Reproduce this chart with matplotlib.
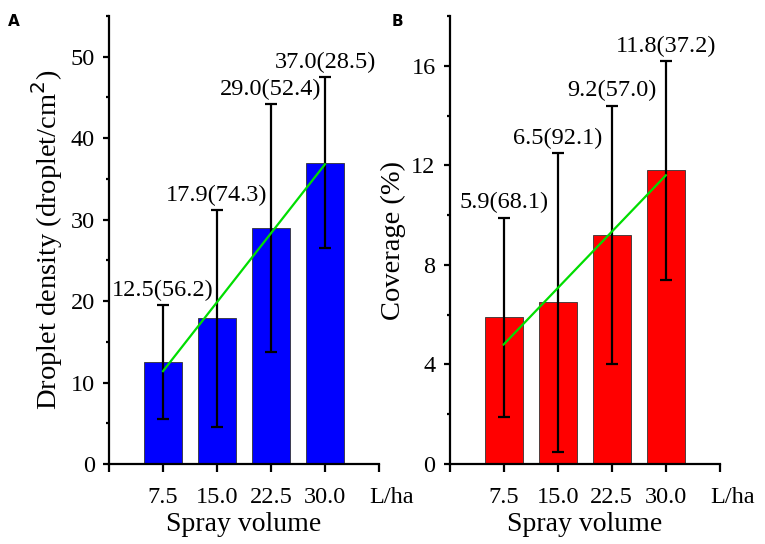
import matplotlib.pyplot as plt
from matplotlib.ticker import MultipleLocator

plt.rcParams['font.family'] = ['Liberation Serif', 'DejaVu Serif']

volumes = ['7.5', '15.0', '22.5', '30.0']
unit = 'L/ha'

density = [12.5, 17.9, 29.0, 37.0]
density_err = [7.0, 13.3, 15.2, 10.5]
density_cv = [56.2, 74.3, 52.4, 28.5]
density_trend = [11.4, 36.8]   # green line ends

coverage = [5.9, 6.5, 9.2, 11.8]
coverage_err = [4.0, 6.0, 5.2, 4.4]
coverage_cv = [68.1, 92.1, 57.0, 37.2]
coverage_trend = [4.8, 11.6]

fig = plt.figure(figsize=(7.65, 5.44), dpi=100)
axA = fig.add_axes([109 / 765, 80 / 544, 270 / 765, 448 / 544])
axB = fig.add_axes([449.5 / 765, 80 / 544, 270.5 / 765, 448 / 544])


def panel(ax, vals, errs, cvs, trend, color, ylabel, ymax, major, minor):
    x = list(range(1, len(vals) + 1))
    ax.bar(x, vals, width=0.7, color=color, edgecolor='#333333', linewidth=0.6, zorder=2)
    ax.errorbar(x, vals, yerr=errs, fmt='none', ecolor='black', elinewidth=1.6,
                capsize=4.5, capthick=1.6, zorder=3)
    ax.plot([x[0], x[-1]], trend, color='#00dd00', lw=1.6, zorder=4)
    for xi, v, e, c in zip(x, vals, errs, cvs):
        ax.annotate(f'{v:.1f}({c:.1f})', (xi, v + e), xytext=(0, 3),
                    textcoords='offset points', ha='center', va='bottom', fontsize=17.5)
    ax.set_xlim(0, 5)
    ax.set_ylim(0, ymax)
    ax.set_xticks(range(0, 6))
    ax.set_xticklabels([''] + volumes + [''])
    # unit label sits a little right of the last tick
    ax.annotate(unit, (5, 0), xytext=(9, -16.5), textcoords='offset points',
                ha='center', va='top', fontsize=17.5, annotation_clip=False)
    ax.yaxis.set_major_locator(MultipleLocator(major))
    ax.yaxis.set_minor_locator(MultipleLocator(minor))
    for s in ['top', 'right']:
        ax.spines[s].set_visible(False)
    for s in ['left', 'bottom']:
        ax.spines[s].set_linewidth(1.6)
    ax.tick_params(which='both', width=1.6, labelsize=17.5)
    ax.tick_params(axis='x', which='major', length=5.5, pad=11)
    ax.tick_params(axis='y', which='major', length=4, pad=6)
    ax.tick_params(axis='y', which='minor', length=2.5)
    ax.set_xlabel('Spray volume', fontsize=20, labelpad=3)
    ax.set_ylabel(ylabel, fontsize=20.5, labelpad=4)


panel(axA, density, density_err, density_cv, density_trend, '#0000ff',
      'Droplet density (droplet/cm$^2$)', 55, 10, 5)
panel(axB, coverage, coverage_err, coverage_cv, coverage_trend, '#ff0000',
      'Coverage (%)', 18, 4, 2)

fig.text(0.010, 0.975, 'A', fontsize=11, fontweight='bold', family='DejaVu Sans', va='top')
fig.text(0.512, 0.975, 'B', fontsize=11, fontweight='bold', family='DejaVu Sans', va='top')

fig.savefig('out.png', dpi=100)
